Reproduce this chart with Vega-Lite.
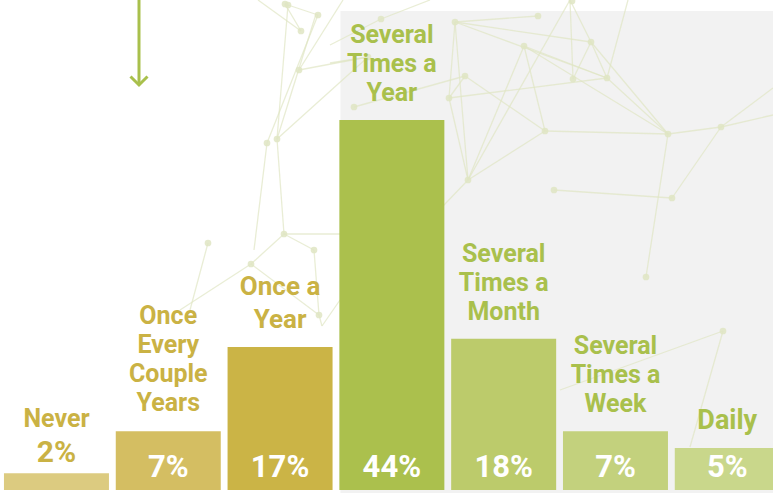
{
  "$schema": "https://vega.github.io/schema/vega-lite/v6.json",
  "width": 773,
  "height": 493,
  "padding": 0,
  "autosize": {"type": "none"},
  "background": "white",
  "config": {"view": {"stroke": null}, "font": "Roboto", "axis": {"disable": true}},
  "datasets": {
    "bars": [
      {"category": "Never", "order": 1, "pct": 2, "label": "Never", "pctText": "2%"},
      {"category": "Once Every Couple Years", "order": 2, "pct": 7, "label": "Once\nEvery\nCouple\nYears", "pctText": "7%"},
      {"category": "Once a Year", "order": 3, "pct": 17, "label": "Once a\nYear", "pctText": "17%"},
      {"category": "Several Times a Year", "order": 4, "pct": 44, "label": "Several\nTimes a\nYear", "pctText": "44%"},
      {"category": "Several Times a Month", "order": 5, "pct": 18, "label": "Several\nTimes a\nMonth", "pctText": "18%"},
      {"category": "Several Times a Week", "order": 6, "pct": 7, "label": "Several\nTimes a\nWeek", "pctText": "7%"},
      {"category": "Daily", "order": 7, "pct": 5, "label": "Daily", "pctText": "5%"}
    ],
    "edges": [
      {"x1": 258, "y1": 0, "x2": 301, "y2": 31},
      {"x1": 285, "y1": 4, "x2": 301, "y2": 31},
      {"x1": 288, "y1": 5, "x2": 318, "y2": 15},
      {"x1": 288, "y1": 5, "x2": 277, "y2": 139},
      {"x1": 318, "y1": 15, "x2": 267, "y2": 143},
      {"x1": 316, "y1": 14, "x2": 277, "y2": 139},
      {"x1": 299, "y1": 70, "x2": 368, "y2": 57},
      {"x1": 299, "y1": 70, "x2": 343, "y2": 0},
      {"x1": 277, "y1": 139, "x2": 368, "y2": 57},
      {"x1": 277, "y1": 139, "x2": 284, "y2": 234},
      {"x1": 267, "y1": 143, "x2": 254, "y2": 250},
      {"x1": 381, "y1": 19, "x2": 330, "y2": 45},
      {"x1": 381, "y1": 19, "x2": 430, "y2": 0},
      {"x1": 368, "y1": 57, "x2": 330, "y2": 63},
      {"x1": 455, "y1": 22, "x2": 538, "y2": 16},
      {"x1": 455, "y1": 22, "x2": 591, "y2": 42},
      {"x1": 455, "y1": 22, "x2": 607, "y2": 78},
      {"x1": 455, "y1": 22, "x2": 449, "y2": 98},
      {"x1": 455, "y1": 22, "x2": 468, "y2": 180},
      {"x1": 524, "y1": 46, "x2": 607, "y2": 78},
      {"x1": 524, "y1": 46, "x2": 668, "y2": 134},
      {"x1": 449, "y1": 98, "x2": 607, "y2": 78},
      {"x1": 465, "y1": 76, "x2": 449, "y2": 98},
      {"x1": 465, "y1": 76, "x2": 545, "y2": 131},
      {"x1": 465, "y1": 76, "x2": 354, "y2": 107},
      {"x1": 449, "y1": 98, "x2": 468, "y2": 180},
      {"x1": 524, "y1": 46, "x2": 468, "y2": 180},
      {"x1": 524, "y1": 46, "x2": 545, "y2": 131},
      {"x1": 570, "y1": 0, "x2": 468, "y2": 180},
      {"x1": 573, "y1": 79, "x2": 570, "y2": 0},
      {"x1": 591, "y1": 42, "x2": 570, "y2": 0},
      {"x1": 591, "y1": 42, "x2": 573, "y2": 79},
      {"x1": 591, "y1": 42, "x2": 607, "y2": 78},
      {"x1": 607, "y1": 78, "x2": 628, "y2": 0},
      {"x1": 607, "y1": 78, "x2": 668, "y2": 134},
      {"x1": 591, "y1": 42, "x2": 668, "y2": 134},
      {"x1": 545, "y1": 131, "x2": 668, "y2": 134},
      {"x1": 545, "y1": 131, "x2": 468, "y2": 180},
      {"x1": 468, "y1": 180, "x2": 420, "y2": 230},
      {"x1": 554, "y1": 190, "x2": 672, "y2": 198},
      {"x1": 668, "y1": 134, "x2": 721, "y2": 127},
      {"x1": 721, "y1": 127, "x2": 773, "y2": 88},
      {"x1": 721, "y1": 127, "x2": 773, "y2": 115},
      {"x1": 721, "y1": 127, "x2": 672, "y2": 198},
      {"x1": 668, "y1": 134, "x2": 646, "y2": 277},
      {"x1": 723, "y1": 331, "x2": 560, "y2": 390},
      {"x1": 723, "y1": 331, "x2": 690, "y2": 447},
      {"x1": 284, "y1": 234, "x2": 314, "y2": 250},
      {"x1": 284, "y1": 234, "x2": 251, "y2": 264},
      {"x1": 251, "y1": 264, "x2": 180, "y2": 310},
      {"x1": 284, "y1": 234, "x2": 340, "y2": 234},
      {"x1": 251, "y1": 264, "x2": 319, "y2": 315},
      {"x1": 314, "y1": 250, "x2": 319, "y2": 315},
      {"x1": 208, "y1": 243, "x2": 190, "y2": 310},
      {"x1": 319, "y1": 315, "x2": 322, "y2": 326},
      {"x1": 322, "y1": 326, "x2": 340, "y2": 300}
    ],
    "nodes": [
      {"x": 285, "y": 4}, {"x": 288, "y": 5}, {"x": 318, "y": 15}, {"x": 301, "y": 31},
      {"x": 299, "y": 70}, {"x": 267, "y": 143}, {"x": 277, "y": 139}, {"x": 284, "y": 234},
      {"x": 208, "y": 243}, {"x": 314, "y": 250}, {"x": 251, "y": 264}, {"x": 319, "y": 315},
      {"x": 368, "y": 57}, {"x": 354, "y": 107}, {"x": 381, "y": 19}, {"x": 455, "y": 22},
      {"x": 538, "y": 16}, {"x": 572, "y": 1}, {"x": 591, "y": 42}, {"x": 524, "y": 46},
      {"x": 573, "y": 79}, {"x": 607, "y": 78}, {"x": 465, "y": 76}, {"x": 449, "y": 98},
      {"x": 545, "y": 131}, {"x": 468, "y": 180}, {"x": 554, "y": 190}, {"x": 668, "y": 134},
      {"x": 721, "y": 127}, {"x": 672, "y": 198}, {"x": 646, "y": 277}, {"x": 723, "y": 331}
    ]
  },
  "layer": [
    {
      "layer": [
        {
          "data": {"values": [{}]},
          "mark": {"type": "rect", "color": "#f2f2f2"},
          "encoding": {
            "x": {"datum": 340.5, "type": "quantitative", "scale": {"domain": [0, 773], "nice": false, "zero": false, "padding": 0}},
            "x2": {"datum": 773},
            "y": {"datum": 11, "type": "quantitative", "scale": {"domain": [0, 493], "nice": false, "zero": false, "reverse": true, "padding": 0}},
            "y2": {"datum": 493}
          }
        },
        {
          "data": {"name": "edges"},
          "mark": {"type": "rule", "color": "#dfe5c3", "strokeWidth": 1.3, "opacity": 0.7},
          "encoding": {
            "x": {"field": "x1", "type": "quantitative"},
            "y": {"field": "y1", "type": "quantitative"},
            "x2": {"field": "x2"},
            "y2": {"field": "y2"}
          }
        },
        {
          "data": {"name": "nodes"},
          "mark": {"type": "circle", "color": "#dfe5c3", "size": 45, "opacity": 0.85},
          "encoding": {
            "x": {"field": "x", "type": "quantitative"},
            "y": {"field": "y", "type": "quantitative"}
          }
        },
        {
          "data": {"values": [{}]},
          "mark": {"type": "rule", "color": "#a9c04c", "strokeWidth": 3},
          "encoding": {
            "x": {"datum": 139, "type": "quantitative"},
            "y": {"datum": 0, "type": "quantitative"},
            "y2": {"datum": 84}
          }
        },
        {
          "data": {"values": [{}]},
          "mark": {"type": "point", "shape": "M-1,-1L0,0L1,-1", "size": 289, "filled": false, "stroke": "#a9c04c", "strokeWidth": 3, "opacity": 1},
          "encoding": {
            "x": {"datum": 139, "type": "quantitative"},
            "y": {"datum": 85, "type": "quantitative"}
          }
        }
      ]
    },
    {
      "data": {"name": "bars"},
      "layer": [
        {
          "mark": {"type": "bar", "width": 105},
          "encoding": {
            "x": {"field": "order", "type": "quantitative", "scale": {"domain": [0.495, 7.409], "nice": false, "zero": false, "padding": 0}},
            "y": {"field": "pct", "type": "quantitative", "scale": {"domain": [-0.357, 58.27], "nice": false, "zero": false, "padding": 0}},
            "y2": {"datum": 0},
            "color": {
              "field": "category", "type": "nominal", "legend": null,
              "scale": {
                "domain": ["Never", "Once Every Couple Years", "Once a Year", "Several Times a Year", "Several Times a Month", "Several Times a Week", "Daily"],
                "range": ["#dccb80", "#d4be62", "#cbb446", "#abc04d", "#bccb6b", "#c3d17d", "#c9d78b"]
              }
            }
          }
        },
        {
          "transform": [{"filter": "datum.order == 2"}],
          "mark": {"type": "text", "baseline": "bottom", "align": "center", "dy": -102, "fontSize": 25, "lineHeight": 29, "fontWeight": "bold", "lineBreak": "\n", "color": "#cab244"},
          "encoding": {
            "x": {"field": "order", "type": "quantitative"},
            "y": {"field": "pct", "type": "quantitative"},
            "text": {"field": "label"}
          }
        },
        {
          "transform": [{"filter": "datum.order >= 4 && datum.order <= 6"}],
          "mark": {"type": "text", "baseline": "bottom", "align": "center", "dy": -72, "fontSize": 25, "lineHeight": 29, "fontWeight": "bold", "lineBreak": "\n", "color": "#a9c04c"},
          "encoding": {
            "x": {"field": "order", "type": "quantitative"},
            "y": {"field": "pct", "type": "quantitative"},
            "text": {"field": "label"}
          }
        },
        {
          "transform": [{"filter": "datum.order == 7"}],
          "mark": {"type": "text", "baseline": "bottom", "align": "center", "dy": -13, "fontSize": 27, "fontWeight": "bold", "color": "#a9c04c"},
          "encoding": {
            "x": {"field": "order", "type": "quantitative"},
            "y": {"field": "pct", "type": "quantitative"},
            "text": {"field": "label"}
          }
        },
        {
          "transform": [{"filter": "datum.order == 3"}],
          "mark": {"type": "text", "baseline": "bottom", "align": "center", "dy": -47, "fontSize": 26, "lineHeight": 33, "fontWeight": "bold", "lineBreak": "\n", "color": "#cab244"},
          "encoding": {
            "x": {"field": "order", "type": "quantitative"},
            "y": {"field": "pct", "type": "quantitative"},
            "text": {"field": "label"}
          }
        },
        {
          "transform": [{"filter": "datum.order == 1"}],
          "mark": {"type": "text", "baseline": "alphabetic", "align": "center", "dy": -46, "fontSize": 25, "fontWeight": "bold", "color": "#cab244"},
          "encoding": {
            "x": {"field": "order", "type": "quantitative"},
            "y": {"field": "pct", "type": "quantitative"},
            "text": {"field": "label"}
          }
        },
        {
          "transform": [{"filter": "datum.order == 1"}],
          "mark": {"type": "text", "baseline": "alphabetic", "align": "center", "dy": -11, "fontSize": 30, "fontWeight": "bold", "color": "#cab244"},
          "encoding": {
            "x": {"field": "order", "type": "quantitative"},
            "y": {"field": "pct", "type": "quantitative"},
            "text": {"field": "pctText"}
          }
        },
        {
          "transform": [{"filter": "datum.order >= 2"}],
          "mark": {"type": "text", "baseline": "alphabetic", "align": "center", "dy": -13, "fontSize": 31, "fontWeight": "bold", "color": "white"},
          "encoding": {
            "x": {"field": "order", "type": "quantitative"},
            "y": {"datum": 0, "type": "quantitative"},
            "text": {"field": "pctText"}
          }
        }
      ]
    }
  ],
  "resolve": {"scale": {"x": "independent", "y": "independent", "color": "independent", "size": "independent"}}
}
